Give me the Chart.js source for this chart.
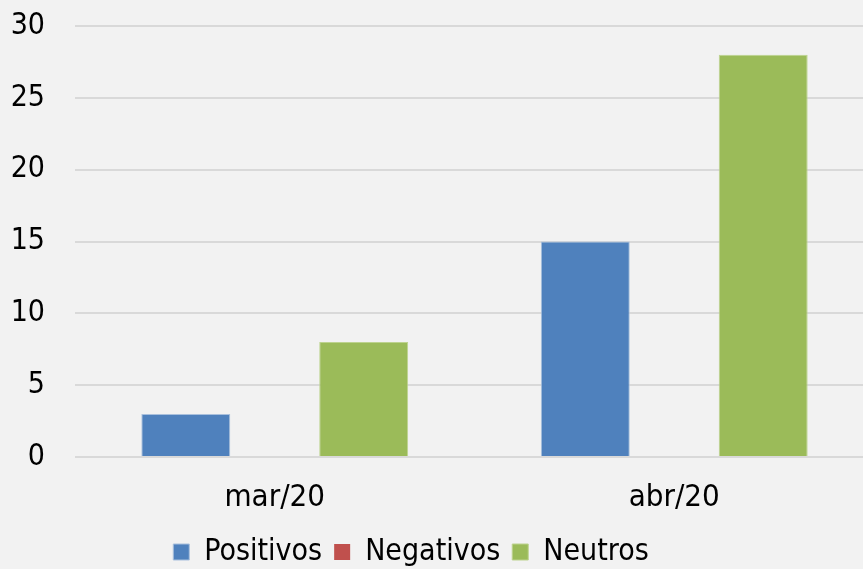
<!DOCTYPE html>
<html>
<head>
<meta charset="utf-8">
<script src="https://cdn.jsdelivr.net/npm/chart.js@4"></script>
<style>
  html, body { margin: 0; padding: 0; background: #f2f2f2; overflow: hidden; }
  #wrap { position: relative; width: 874px; height: 569px; }
</style>
</head>
<body>
<div id="wrap"><canvas id="grafico" width="874" height="569"></canvas></div>
<script>
// dati del grafico
const mesi = ['mar/20', 'abr/20'];
const positivos = [3, 15];
const negativos = [0, 0];
const neutros = [8, 28];
const tickY = [0, 5, 10, 15, 20, 25, 30];

const fonte = '"DejaVu Sans Condensed", "DejaVu Sans", sans-serif';

// sfondo grigio chiaro
const sfondo = {
    id: 'sfondo',
    beforeDraw(chart) {
        const c = chart.ctx;
        c.save();
        c.fillStyle = '#f2f2f2';
        c.fillRect(0, 0, chart.width, chart.height);
        c.restore();
    }
};

// sposta la legenda un po' a sinistra e in basso
const spostaLegenda = {
    id: 'spostaLegenda',
    afterLayout(chart) {
        const l = chart.legend;
        l.left -= 26; l.right -= 26;
        l.top += 8; l.bottom += 8;
    }
};

const ctx = document.getElementById('grafico').getContext('2d');
new Chart(ctx, {
    type: 'bar',
    data: {
        labels: mesi,
        datasets: [
            { label: 'Positivos', data: positivos, backgroundColor: '#4f81bd', borderColor: '#a9c0dd', borderWidth: 1 },
            { label: 'Negativos', data: negativos, backgroundColor: '#c0504d', borderColor: '#c0504d', borderWidth: 0 },
            { label: 'Neutros', data: neutros, backgroundColor: '#9bbb59', borderColor: '#bdd38f', borderWidth: 1 }
        ]
    },
    options: {
        responsive: false,
        animation: false,
        layout: { padding: { top: 26, bottom: 0 } },
        datasets: { bar: { categoryPercentage: 0.668, barPercentage: 1 } },
        scales: {
            x: {
                afterFit: scale => { scale.height = 60; },
                grid: { display: false, drawTicks: false },
                border: { display: false },
                ticks: { color: '#000', padding: 22, font: { family: fonte, size: 31 } }
            },
            y: {
                min: 0,
                max: 30,
                afterFit: scale => { scale.width = 75; scale.paddingTop = 0; scale.paddingBottom = 0; },
                afterBuildTicks: scale => { scale.ticks = tickY.map(v => ({ value: v })); },
                grid: { color: '#d9d9d9', lineWidth: 2, drawTicks: false },
                border: { display: false },
                ticks: { color: '#000', padding: 30, font: { family: fonte, size: 30 } }
            }
        },
        plugins: {
            legend: {
                position: 'bottom',
                align: 'center',
                labels: {
                    color: '#000',
                    boxWidth: 16,
                    boxHeight: 16,
                    padding: 12,
                    font: { family: fonte, size: 30 }
                }
            },
            tooltip: { enabled: false }
        }
    },
    plugins: [sfondo, spostaLegenda]
});
</script>
</body>
</html>
